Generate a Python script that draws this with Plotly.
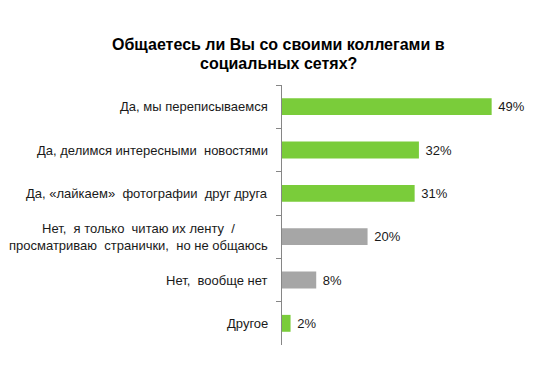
import plotly.graph_objects as go

categories = [
    "Да, мы переписываемся",
    "Да, делимся интересными  новостями",
    "Да, «лайкаем»  фотографии  друг друга",
    "Нет,  я только  читаю их ленту  /<br>просматриваю  странички,  но не общаюсь",
    "Нет,  вообще нет",
    "Другое",
]
values = [49, 32, 31, 20, 8, 2]
value_labels = ["49%", "32%", "31%", "20%", "8%", "2%"]
colors = ["#7ACC3A", "#7ACC3A", "#7ACC3A", "#A6A6A6", "#A6A6A6", "#7ACC3A"]
title_lines = ["Общаетесь ли Вы со своими коллегами в", "социальных сетях?"]

font = "Liberation Sans, Arial, sans-serif"

fig = go.Figure(go.Bar(
    x=values, y=categories, orientation="h",
    marker=dict(color=colors, line=dict(width=0)),
    width=0.39,
    text=value_labels, texttemplate=" %{text}", textposition="outside",
    textfont=dict(family=font, size=13, color="#1a1a1a"),
    cliponaxis=False,
))

annotations = []
for c in categories:
    annotations.append(dict(
        x=0, y=c, xref="x", yref="y", text=c, showarrow=False,
        xanchor="right", yanchor="middle", align="center", xshift=-12,
        font=dict(family=font, size=13, color="#1a1a1a"),
    ))

title_y = [1.156, 1.083]
for t, ty in zip(title_lines, title_y):
    annotations.append(dict(
        x=-0.012, y=ty, xref="paper", yref="paper", text="<b>" + t + "</b>",
        showarrow=False, xanchor="center", yanchor="middle",
        font=dict(family=font, size=16, color="black"),
    ))

fig.update_layout(
    width=532, height=363,
    margin=dict(l=274, r=0, t=77, b=26),
    paper_bgcolor="white", plot_bgcolor="white",
    showlegend=False,
    annotations=annotations,
    xaxis=dict(range=[0, 60.3], visible=False),
    yaxis=dict(autorange="reversed", showticklabels=False,
               showline=True, linecolor="#868686", linewidth=1,
               ticks="outside", tickson="boundaries", ticklen=5, tickcolor="#868686",
               showgrid=False, zeroline=False),
)

fig.write_html("out.html")
